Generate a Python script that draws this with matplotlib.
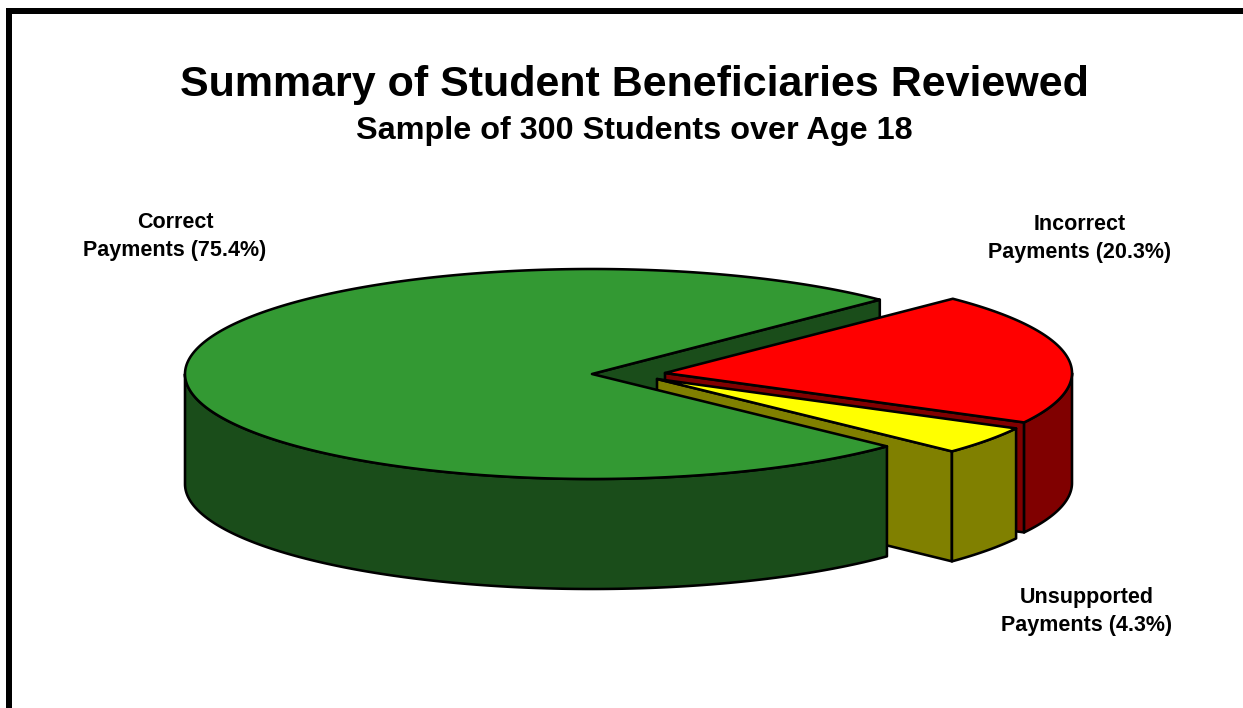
import numpy as np
import matplotlib
matplotlib.use("Agg")
import matplotlib.pyplot as plt
from matplotlib.patches import Polygon

TITLE = "Summary of Student Beneficiaries Reviewed"
SUBTITLE = "Sample of 300 Students over Age 18"
categories = ["Correct", "Unsupported", "Incorrect"]
shares = [75.4, 4.3, 20.3]
top_colors = ["#339933", "#FFFF00", "#FF0000"]
side_colors = ["#1A4D1A", "#808000", "#800000"]

W, H = 1243, 708
RX, RY, DEPTH = 407, 105, 110
START = 45.0
apexes = [(592, 374), (657, 379), (665, 373)]
label_xy = [(175, 256), (1087, 631), (1080, 258)]
LW = 1.85

fig = plt.figure(figsize=(W / 100, H / 100), dpi=100, facecolor="white")
ax = fig.add_axes([0, 0, 1, 1])
ax.set_xlim(0, W)
ax.set_ylim(H, 0)
ax.axis("off")

# Slice angle ranges follow from the shares, going counter-clockwise from START
ends = START + np.cumsum(shares) * 3.6
starts = np.concatenate([[START], ends[:-1]])


def pt(i, deg, drop=0):
    a = np.radians(deg)
    return apexes[i][0] + RX * np.cos(a), apexes[i][1] - RY * np.sin(a) + drop


def arc(i, a0, a1, drop=0):
    n = max(2, int(abs(a1 - a0) * 2))
    return [pt(i, d, drop) for d in np.linspace(a0, a1, n)]


def poly(points, color, z):
    ax.add_patch(Polygon(points, closed=True, facecolor=color, edgecolor="black",
                         linewidth=LW, joinstyle="round", zorder=z))


def cut_face(i, deg, z):
    x0, y0 = apexes[i]
    x1, y1 = pt(i, deg)
    poly([(x0, y0), (x1, y1), (x1, y1 + DEPTH), (x0, y0 + DEPTH)], side_colors[i], z)


def rim(i, a0, a1, z):
    poly(arc(i, a0, a1) + arc(i, a1, a0, DEPTH), side_colors[i], z)


def top(i, z):
    poly([apexes[i]] + arc(i, starts[i], ends[i]), top_colors[i], z)


# Painter's order: back face of the large slice, then exploded slices, then its top
cut_face(0, starts[0], 1)

cut_face(2, starts[2], 2)
rim(2, starts[2], 360, 2)
top(2, 3)

cut_face(1, starts[1], 4)
rim(1, starts[1], ends[1], 4)
top(1, 5)

rim(0, 180, ends[0], 6)
top(0, 7)

# Frame
ax.fill_between([6, W], 8, 14, color="black", lw=0, zorder=10)
ax.fill_between([6, 12], 8, H, color="black", lw=0, zorder=10)

font = "Liberation Sans"
ax.text(634, 96, TITLE, ha="center", va="baseline", family=font, weight="bold",
        fontsize=31, zorder=11)
ax.text(634.5, 139, SUBTITLE, ha="center", va="baseline", family=font, weight="bold",
        fontsize=23.35, zorder=11)
for cat, v, (x, y) in zip(categories, shares, label_xy):
    ax.text(x, y, f"{cat}\nPayments ({v}%)", ha="center", va="baseline", family=font,
            weight="bold", fontsize=15.5, linespacing=1.45, zorder=11)

fig.savefig("out.png", dpi=100)
